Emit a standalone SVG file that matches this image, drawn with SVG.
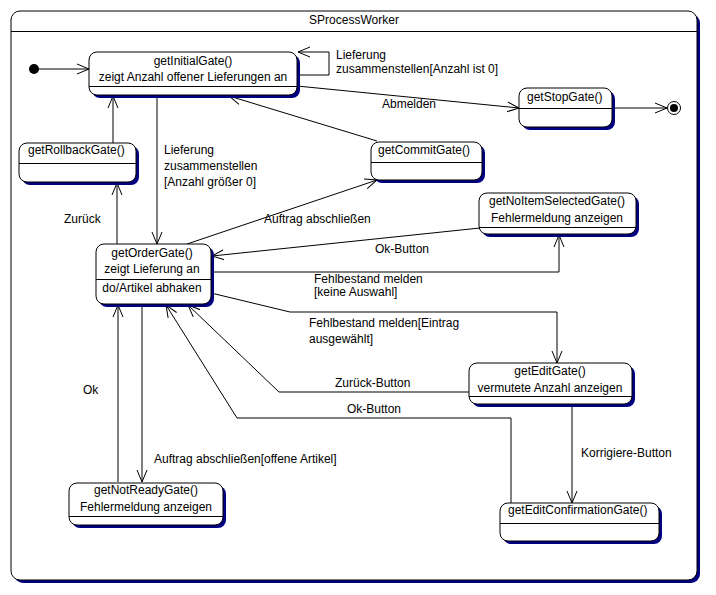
<svg xmlns="http://www.w3.org/2000/svg" width="716" height="595" viewBox="0 0 716 595">
<style>
text{font-family:"Liberation Sans",Arial,sans-serif;font-size:12px;fill:#000}
.c{text-anchor:middle}
.box{fill:#fff;stroke:#000;stroke-width:1}
.sh{fill:#000080}
.sep{stroke:#000;stroke-width:1}
.ln{fill:none;stroke:#000;stroke-width:1;marker-end:url(#a)}
</style>
<defs>
<marker id="a" markerUnits="userSpaceOnUse" viewBox="0 0 12 12" refX="12" refY="6" markerWidth="12" markerHeight="12" orient="auto">
<path d="M0,1 L12,6 L0,11" fill="none" stroke="#000" stroke-width="1"/>
</marker>
</defs>
<rect width="716" height="595" fill="#fff"/>
<g id="frame">
<rect class="sh" x="14" y="14" width="686" height="569" rx="9"/>
<rect class="box" x="11" y="11" width="686" height="569" rx="9"/>
<line class="sep" x1="11" y1="31.5" x2="697" y2="31.5"/>
<text class="c" x="354" y="24">SProcessWorker</text>
</g>
<g id="connectors">
<path class="ln" d="M39,69 L89,69"/>
<path class="ln" d="M297,75 L329,75 L329,52 L298,52"/>
<path class="ln" d="M297,86 L519,108"/>
<path class="ln" d="M612,108 L667,108"/>
<path class="ln" d="M377,141 L229,96"/>
<path class="ln" d="M187,244 L377,180"/>
<path class="ln" d="M113,143 L113,96"/>
<path class="ln" d="M117,244 L117,183"/>
<path class="ln" d="M157,96 L157,244"/>
<path class="ln" d="M480,228 L212,256"/>
<path class="ln" d="M211,272 L559,272 L559,235"/>
<path class="ln" d="M211,293 L290,312 L557,312 L557,363"/>
<path class="ln" d="M469,392 L279,392 L188,305"/>
<path class="ln" d="M511,503 L511,418 L237,418 L166,305"/>
<path class="ln" d="M142,305 L142,482"/>
<path class="ln" d="M118,482 L118,305"/>
<path class="ln" d="M572,404 L572,503"/>
<text x="336" y="59">Lieferung</text>
<text x="336" y="73">zusammenstellen[Anzahl ist 0]</text>
<text x="382" y="108">Abmelden</text>
<text x="164" y="154">Lieferung</text>
<text x="164" y="170">zusammenstellen</text>
<text x="164" y="186">[Anzahl größer 0]</text>
<text x="64" y="223">Zurück</text>
<text x="264" y="223">Auftrag abschließen</text>
<text x="375" y="253">Ok-Button</text>
<text x="314" y="283">Fehlbestand melden</text>
<text x="314" y="296">[keine Auswahl]</text>
<text x="309" y="327">Fehlbestand melden[Eintrag</text>
<text x="309" y="343">ausgewählt]</text>
<text x="335" y="387">Zurück-Button</text>
<text x="347" y="413">Ok-Button</text>
<text x="83" y="394">Ok</text>
<text x="154" y="463">Auftrag abschließen[offene Artikel]</text>
<text x="581" y="457">Korrigiere-Button</text>
</g>
<g id="initial">
<circle cx="34" cy="69" r="5" fill="#000"/>
</g>
<g id="final">
<circle cx="674" cy="108" r="6.5" fill="#fff" stroke="#000"/>
<circle cx="674" cy="108" r="4" fill="#000"/>
</g>
<g id="getInitialGate">
<rect class="sh" x="92" y="55" width="208" height="43" rx="8"/>
<rect class="box" x="89" y="52" width="208" height="43" rx="8"/>
<line class="sep" x1="89" y1="86.5" x2="297" y2="86.5"/>
<text class="c" x="193" y="65">getInitialGate()</text>
<text class="c" x="193" y="81">zeigt Anzahl offener Lieferungen an</text>
</g>
<g id="getStopGate">
<rect class="sh" x="522" y="91" width="93" height="39" rx="8"/>
<rect class="box" x="519" y="88" width="93" height="39" rx="8"/>
<line class="sep" x1="519" y1="108.5" x2="612" y2="108.5"/>
<text x="527" y="101">getStopGate()</text>
</g>
<g id="getCommitGate">
<rect class="sh" x="374" y="145" width="111" height="38" rx="8"/>
<rect class="box" x="371" y="142" width="111" height="38" rx="8"/>
<line class="sep" x1="371" y1="162.5" x2="482" y2="162.5"/>
<text x="378" y="154">getCommitGate()</text>
</g>
<g id="getRollbackGate">
<rect class="sh" x="22" y="146" width="117" height="39" rx="8"/>
<rect class="box" x="19" y="143" width="117" height="39" rx="8"/>
<line class="sep" x1="19" y1="163.5" x2="136" y2="163.5"/>
<text x="28" y="154">getRollbackGate()</text>
</g>
<g id="getOrderGate">
<rect class="sh" x="99" y="247" width="115" height="60" rx="8"/>
<rect class="box" x="96" y="244" width="115" height="60" rx="8"/>
<line class="sep" x1="96" y1="279.5" x2="211" y2="279.5"/>
<text class="c" x="152" y="257">getOrderGate()</text>
<text class="c" x="152" y="273">zeigt Lieferung an</text>
<text class="c" x="152" y="292">do/Artikel abhaken</text>
</g>
<g id="getNoItemSelectedGate">
<rect class="sh" x="482" y="196" width="157" height="41" rx="8"/>
<rect class="box" x="479" y="193" width="157" height="41" rx="8"/>
<line class="sep" x1="479" y1="227.5" x2="636" y2="227.5"/>
<text class="c" x="557" y="205">getNoItemSelectedGate()</text>
<text class="c" x="557" y="222">Fehlermeldung anzeigen</text>
</g>
<g id="getEditGate">
<rect class="sh" x="472" y="366" width="163" height="41" rx="8"/>
<rect class="box" x="469" y="363" width="163" height="41" rx="8"/>
<line class="sep" x1="469" y1="396.5" x2="632" y2="396.5"/>
<text class="c" x="550" y="375">getEditGate()</text>
<text class="c" x="550" y="392">vermutete Anzahl anzeigen</text>
</g>
<g id="getNotReadyGate">
<rect class="sh" x="72" y="486" width="154" height="42" rx="8"/>
<rect class="box" x="69" y="483" width="154" height="42" rx="8"/>
<line class="sep" x1="69" y1="516.5" x2="223" y2="516.5"/>
<text class="c" x="146" y="494">getNotReadyGate()</text>
<text class="c" x="146" y="511">Fehlermeldung anzeigen</text>
</g>
<g id="getEditConfirmationGate">
<rect class="sh" x="503" y="506" width="159" height="38" rx="8"/>
<rect class="box" x="500" y="503" width="159" height="38" rx="8"/>
<line class="sep" x1="500" y1="523.5" x2="659" y2="523.5"/>
<text x="508" y="514">getEditConfirmationGate()</text>
</g>
</svg>
